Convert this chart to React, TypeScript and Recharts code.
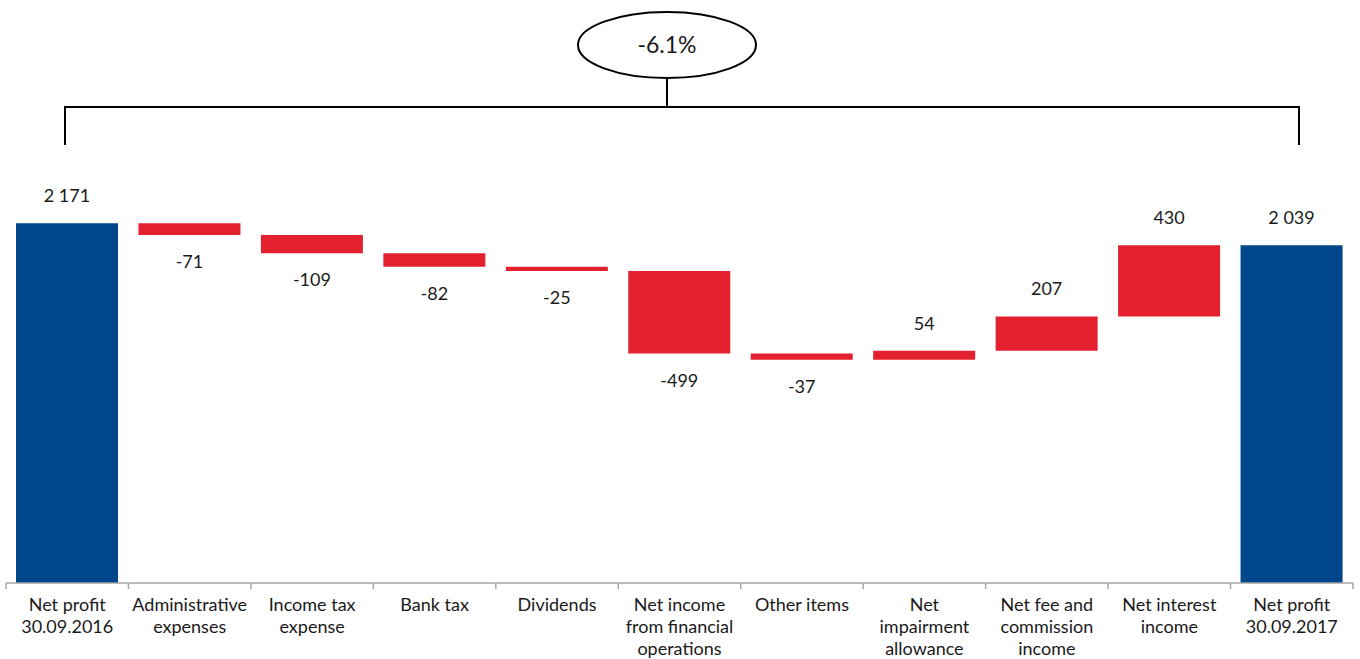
import React from "react";
import { BarChart, Bar, XAxis, YAxis, Cell, LabelList } from "recharts";

// categories (line breaks are where the axis labels wrap)
const categories = [
  "Net profit\n30.09.2016",
  "Administrative\nexpenses",
  "Income tax\nexpense",
  "Bank tax",
  "Dividends",
  "Net income\nfrom financial\noperations",
  "Other items",
  "Net\nimpairment\nallowance",
  "Net fee and\ncommission\nincome",
  "Net interest\nincome",
  "Net profit\n30.09.2017",
];

// change per step; first and last are totals
const changes = [2171, -71, -109, -82, -25, -499, -37, 54, 207, 430, 2039];
const isTotal = [true, false, false, false, false, false, false, false, false, false, true];

const BLUE = "#00468B";
const RED = "#E3202E";
const W = 1360;
const H = 659;
const M = { top: 86, right: 7, bottom: 0, left: 6 };
const BAND = (W - M.left - M.right) / categories.length;

// build floating bars: invisible base + visible step
let running = 0;
const rows = categories.map((name, i) => {
  const v = changes[i];
  let base: number;
  if (isTotal[i]) {
    base = 0;
    running = v;
  } else {
    const end = running + v;
    base = Math.min(running, end);
    running = end;
  }
  return { name, base, size: Math.abs(v), value: v, total: isTotal[i] };
});

const first = changes[0];
const last = changes[changes.length - 1];
const pct = (((last - first) / first) * 100).toFixed(1) + "%";

const fmt = (v: number) => {
  const s = Math.abs(v).toString().replace(/\B(?=(\d{3})+(?!\d))/g, " ");
  return (v < 0 ? "-" : "") + s;
};

const ValueLabel = (props: any) => {
  const { x, y, width, height, index } = props;
  const row = rows[index];
  const cx = x + width / 2;
  const ty = row.value < 0 ? y + height + 33 : y - 21;
  return (
    <text x={cx} y={ty} textAnchor="middle" fontFamily="Lato" fontSize={18} fill="#1a1a1a">
      {fmt(row.value)}
    </text>
  );
};

const CategoryTick = (props: any) => {
  const { x, y, payload, index } = props;
  const lines = String(payload.value).split("\n");
  const left = x - BAND / 2;
  const right = x + BAND / 2;
  return (
    <g>
      <line x1={left} x2={left} y1={y} y2={y + 6} stroke="#a6a6a6" strokeWidth={1.5} />
      {index === categories.length - 1 && (
        <line x1={right} x2={right} y1={y} y2={y + 6} stroke="#a6a6a6" strokeWidth={1.5} />
      )}
      <text x={x} y={y + 28} textAnchor="middle" fontFamily="Lato" fontSize={18} fill="#1a1a1a">
        {lines.map((l, i) => (
          <tspan key={i} x={x} dy={i === 0 ? 0 : 22}>
            {l}
          </tspan>
        ))}
      </text>
    </g>
  );
};

export default function App() {
  return (
    <div style={{ position: "absolute", left: 0, top: 0, width: W, height: H, background: "#fff" }}>
      <BarChart width={W} height={H} data={rows} margin={M} barSize={102}>
        <XAxis
          dataKey="name"
          interval={0}
          height={76}
          tickLine={false}
          tickSize={0}
          tickMargin={0}
          axisLine={{ stroke: "#a6a6a6", strokeWidth: 1.5 }}
          tick={<CategoryTick />}
        />
        <YAxis hide domain={[0, 3000]} />
        <Bar dataKey="base" stackId="w" fill="transparent" isAnimationActive={false} />
        <Bar dataKey="size" stackId="w" isAnimationActive={false}>
          {rows.map((r, i) => (
            <Cell key={i} fill={r.total ? BLUE : RED} />
          ))}
          <LabelList dataKey="size" content={<ValueLabel />} />
        </Bar>
      </BarChart>
      {/* change bracket between the two totals */}
      <svg width={W} height={160} style={{ position: "absolute", left: 0, top: 0 }}>
        <g fill="none" stroke="#000" strokeWidth={2}>
          <polyline points="65,145 65,107 1299,107 1299,145" />
          <line x1={667} x2={667} y1={78} y2={107} />
          <ellipse cx={667} cy={45} rx={89} ry={33} fill="#fff" />
        </g>
        <text x={667} y={53} textAnchor="middle" fontFamily="Lato" fontSize={23} fill="#1a1a1a">
          {pct}
        </text>
      </svg>
    </div>
  );
}
